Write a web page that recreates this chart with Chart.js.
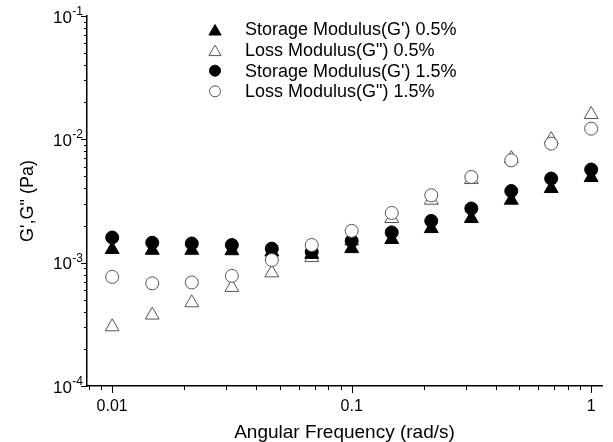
<!DOCTYPE html>
<html>
<head>
<meta charset="utf-8">
<script src="https://cdn.jsdelivr.net/npm/chart.js@4.4.0/dist/chart.umd.min.js"></script>
<style>
  html, body { margin: 0; padding: 0; background: #fff; }
  #wrap { width: 613px; height: 442px; }
</style>
</head>
<body>
<div id="wrap"><canvas id="modulusChart" width="613" height="442"></canvas></div>
<script>
// angular frequency (rad/s)
var freq = [0.01, 0.0147, 0.0215, 0.0316, 0.0464, 0.0681, 0.1, 0.147, 0.215, 0.316, 0.464, 0.681, 1];

// moduli (Pa)
var storage05 = [1.28e-3, 1.26e-3, 1.26e-3, 1.25e-3, 1.22e-3, 1.17e-3, 1.30e-3, 1.54e-3, 1.89e-3, 2.28e-3, 3.21e-3, 3.99e-3, 4.90e-3];
var loss05    = [3.02e-4, 3.76e-4, 4.73e-4, 6.30e-4, 8.27e-4, 1.10e-3, 1.50e-3, 2.28e-3, 3.21e-3, 4.72e-3, 6.98e-3, 9.95e-3, 1.59e-2];
var storage15 = [1.60e-3, 1.45e-3, 1.43e-3, 1.39e-3, 1.30e-3, 1.22e-3, 1.50e-3, 1.76e-3, 2.18e-3, 2.75e-3, 3.81e-3, 4.81e-3, 5.69e-3];
var loss15    = [7.67e-4, 6.79e-4, 6.91e-4, 7.82e-4, 1.05e-3, 1.39e-3, 1.81e-3, 2.53e-3, 3.52e-3, 4.95e-3, 6.76e-3, 9.23e-3, 1.22e-2];

var seriesNames = ["Storage Modulus(G') 0.5%", 'Loss Modulus(G") 0.5%', "Storage Modulus(G') 1.5%", 'Loss Modulus(G") 1.5%'];

var xTickValues = [0.01, 0.1, 1];
var xTickLabels = ['0.01', '0.1', '1'];
var yTickExponents = [-4, -3, -2, -1];

var FONT = '"Liberation Sans", Arial, sans-serif';

function points(vals) {
    return freq.map(function (f, i) { return { x: f, y: vals[i] }; });
}

function logSteps(min, max) {
    var out = [];
    for (var e = Math.floor(Math.log10(min)); e <= Math.ceil(Math.log10(max)); e++) {
        for (var k = 1; k < 10; k++) {
            var v = k * Math.pow(10, e);
            if (v >= min * 0.999 && v <= max * 1.001) out.push({ v: v, major: k === 1 });
        }
    }
    return out;
}

// tick marks, y tick labels with exponents, and the legend
var extras = {
    id: 'extras',
    afterDraw: function (chart) {
        var ctx = chart.ctx, xs = chart.scales.x, ys = chart.scales.y, area = chart.chartArea;
        ctx.save();
        ctx.strokeStyle = '#000';
        ctx.lineWidth = 1;
        ctx.beginPath();
        logSteps(xs.min, xs.max).forEach(function (t) {
            var px = Math.round(xs.getPixelForValue(t.v)) + 0.5;
            ctx.moveTo(px, area.bottom);
            ctx.lineTo(px, area.bottom + (t.major ? 7 : 4));
        });
        logSteps(ys.min, ys.max).forEach(function (t) {
            var py = Math.round(ys.getPixelForValue(t.v)) + 0.5;
            ctx.moveTo(area.left, py);
            ctx.lineTo(area.left - (t.major ? 6 : 3), py);
        });
        ctx.stroke();

        ctx.fillStyle = '#000';
        ctx.textAlign = 'right';
        ctx.textBaseline = 'alphabetic';
        yTickExponents.forEach(function (e) {
            var py = ys.getPixelForValue(Math.pow(10, e));
            var sup = String(e);
            ctx.font = '12px ' + FONT;
            var supW = ctx.measureText(sup).width;
            ctx.fillText(sup, area.left - 4, py - 1);
            ctx.font = '17px ' + FONT;
            ctx.fillText('10', area.left - 4 - supW - 0.5, py + 6.5);
        });

        // legend
        ctx.textAlign = 'left';
        ctx.textBaseline = 'middle';
        ctx.font = '18px ' + FONT;
        chart.data.datasets.forEach(function (ds, i) {
            var ly = 29.5 + i * 20.6;
            ctx.fillStyle = ds.backgroundColor;
            ctx.strokeStyle = ds.borderColor;
            ctx.lineWidth = ds.borderWidth;
            var r = ds.pointStyle === 'triangle' ? 7 : 5.5;
            Chart.helpers.drawPoint(ctx, { pointStyle: ds.pointStyle, radius: r, borderWidth: ds.borderWidth }, 215, ds.pointStyle === 'triangle' ? ly + 2 : ly);
            ctx.fillStyle = '#000';
            ctx.fillText(ds.label, 245, ly + 1);
        });
        ctx.restore();
    }
};

var ctx = document.getElementById('modulusChart').getContext('2d');
var myChart = new Chart(ctx, {
    type: 'scatter',
    data: {
        datasets: [{
            label: seriesNames[0],
            data: points(storage05),
            pointStyle: 'triangle',
            pointRadius: 8,
            pointHoverRadius: 8,
            backgroundColor: '#000',
            borderColor: '#000',
            borderWidth: 1,
            order: 2
        }, {
            label: seriesNames[1],
            data: points(loss05),
            pointStyle: 'triangle',
            pointRadius: 8,
            pointHoverRadius: 8,
            backgroundColor: '#fff',
            borderColor: '#555',
            borderWidth: 1,
            order: 3
        }, {
            label: seriesNames[2],
            data: points(storage15),
            pointStyle: 'circle',
            pointRadius: 6.5,
            pointHoverRadius: 6.5,
            backgroundColor: '#000',
            borderColor: '#000',
            borderWidth: 1,
            order: 1
        }, {
            label: seriesNames[3],
            data: points(loss15),
            pointStyle: 'circle',
            pointRadius: 6.5,
            pointHoverRadius: 6.5,
            backgroundColor: '#fff',
            borderColor: '#555',
            borderWidth: 1,
            order: 0
        }]
    },
    options: {
        responsive: false,
        animation: false,
        devicePixelRatio: 1,
        layout: { padding: { top: 16, right: 5, left: 0, bottom: 0 } },
        plugins: {
            legend: { display: false },
            tooltip: { enabled: false }
        },
        scales: {
            x: {
                type: 'logarithmic',
                position: 'bottom',
                min: 0.00785,
                max: 1.11,
                grid: { display: true, drawOnChartArea: false, drawTicks: false },
                border: { color: '#000', width: 1.5 },
                ticks: {
                    autoSkip: false,
                    maxRotation: 0,
                    padding: 11,
                    color: '#000',
                    font: { family: FONT, size: 16 },
                    callback: function (value) {
                        for (var i = 0; i < xTickValues.length; i++) {
                            if (Math.abs(value - xTickValues[i]) / xTickValues[i] < 1e-6) return xTickLabels[i];
                        }
                        return '';
                    }
                },
                title: {
                    display: true,
                    text: 'Angular Frequency (rad/s)',
                    color: '#000',
                    padding: 0,
                    font: { family: FONT, size: 19, lineHeight: 1 }
                },
                afterFit: function (scale) { scale.height = 56; }
            },
            y: {
                type: 'logarithmic',
                min: 1e-4,
                max: 1e-1,
                grid: { display: true, drawOnChartArea: false, drawTicks: false },
                border: { color: '#000', width: 1.5 },
                ticks: { display: false },
                title: {
                    display: true,
                    text: 'G\',G" (Pa)',
                    color: '#000',
                    padding: { top: 19, bottom: 0 },
                    font: { family: FONT, size: 18, lineHeight: 1 }
                },
                afterFit: function (scale) { scale.width = 87; }
            }
        }
    },
    plugins: [extras]
});
</script>
</body>
</html>
